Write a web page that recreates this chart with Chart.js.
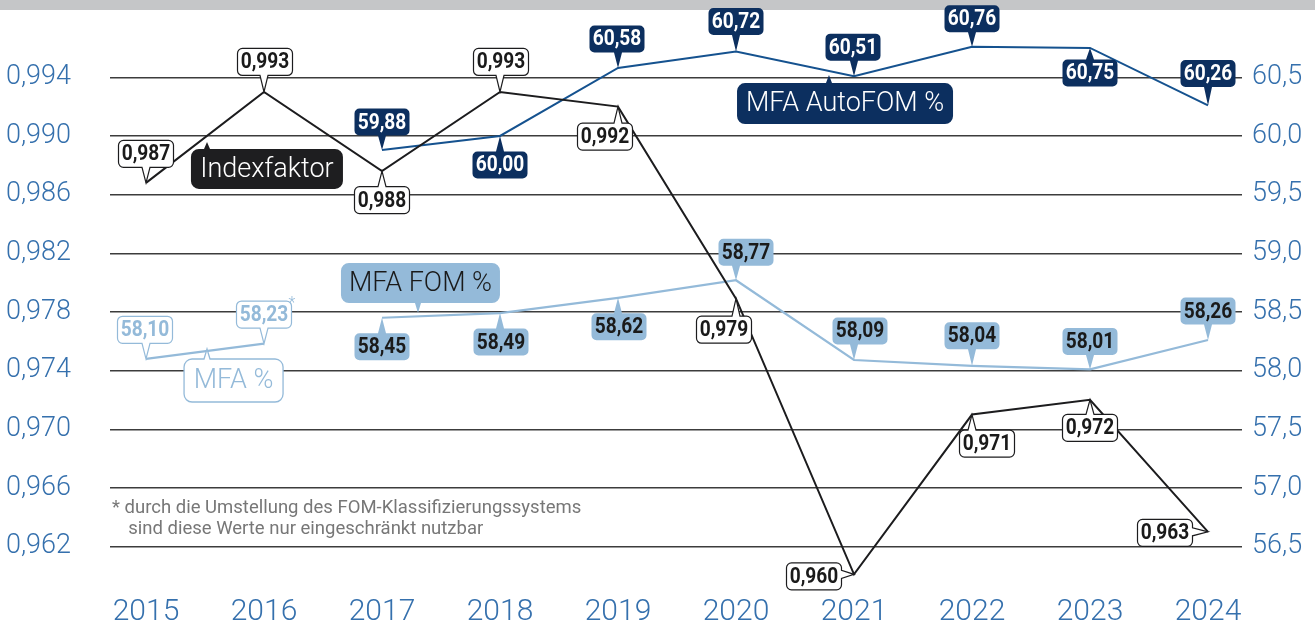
<!DOCTYPE html>
<html>
<head>
<meta charset="utf-8">
<script src="https://cdn.jsdelivr.net/npm/chart.js@4/dist/chart.umd.min.js"></script>
<style>
html,body{margin:0;padding:0;background:#fff;}
#wrap{position:relative;width:1315px;height:628px;}
</style>
</head>
<body>
<div id="wrap"><canvas id="c" width="1315" height="628"></canvas></div>
<script>
// ---- data ----
const years = [2015, 2016, 2017, 2018, 2019, 2020, 2021, 2022, 2023, 2024];
const indexfaktor = [0.9868, 0.9930, 0.9876, 0.9930, 0.9920, 0.9789, 0.9601, 0.9710, 0.9720, 0.9630];
const mfaAutoFom = [null, null, 59.88, 60.00, 60.58, 60.72, 60.51, 60.76, 60.75, 60.26];
const mfaFom = [null, null, 58.45, 58.49, 58.62, 58.77, 58.09, 58.04, 58.01, 58.26];
const mfa = [58.10, 58.23, null, null, null, null, null, null, null, null];
const mfaMarks = ['', '*', '', '', '', '', '', '', '', ''];
const leftTicks = [0.962, 0.966, 0.970, 0.974, 0.978, 0.982, 0.986, 0.990, 0.994];
const rightTicks = [56.5, 57.0, 57.5, 58.0, 58.5, 59.0, 59.5, 60.0, 60.5];
const seriesNames = ['Indexfaktor', 'MFA AutoFOM %', 'MFA FOM %', 'MFA %'];
const footnote = ['* durch die Umstellung des FOM-Klassifizierungssystems', '  sind diese Werte nur eingeschränkt nutzbar'];

// ---- styling / placement (relative to points) ----
const C_BLACK = '#1c1c1e', C_NAVY = '#0c2f5f', C_BLUE = '#15528f', C_LIGHT = '#94bad9', C_AXIS = '#3570ad';
const FRAME = {yTop: 77.3, yBottom: 546.5, xFirst: 146, xLast: 1208};
const place = [
  [[0,-29,'b'],[1,-30,'b'],[0,29,'t'],[1,-30,'b'],[-13,30,'t'],[-12,31,'t'],[-40,2,'r'],[15,29,'t'],[0,28,'t'],[-43,1,'r']],
  [null,null,[0,-28,'b'],[0,29,'t'],[-1,-29,'b'],[0,-30,'b'],[-1,-29,'b'],[0,-28,'b'],[0,25,'t'],[0,-32,'b']],
  [null,null,[0,29,'t'],[1,29,'t'],[1,29,'t'],[10,-28,'b'],[6,-29,'b'],[0,-30,'b'],[0,-28,'b'],[0,-29,'b']],
  [[-1,-29,'b'],[0,-29,'b']]
];
const boxStyle = [
  {fill:'#fff', stroke:C_BLACK, text:'#1a1a1a', dec:3},
  {fill:C_NAVY, stroke:null, text:'#fff', dec:2},
  {fill:C_LIGHT, stroke:null, text:'#1a1a1a', dec:2},
  {fill:'#fff', stroke:C_LIGHT, text:C_LIGHT, dec:2}
];
const tags = [
  {cx:2016.025, cy:0.98775, w:152, h:40, tx:2015.517, ty:0.98959, side:'t', fill:'#1e1e20', stroke:null, text:'#fff'},
  {cx:2020.924, cy:0.99221, w:216, h:41, tx:2020.788, ty:0.99416, side:'t', fill:C_NAVY, stroke:null, text:'#fff'},
  {cx:2017.326, cy:0.97997, w:159, h:40, tx:2017.305, ty:0.97793, side:'b', fill:C_LIGHT, stroke:null, text:'#1a1a1a'},
  {cx:2015.742, cy:0.97332, w:99, h:43, tx:2015.517, ty:0.97547, side:'t', fill:'#fff', stroke:C_LIGHT, text:C_LIGHT}
];

const fmt = (v, d) => v.toFixed(d).replace('.', ',');
const clamp = (v, a, b) => Math.max(a, Math.min(b, v));

function bubble(ctx, cx, cy, w, h, r, side, tx, ty, bw) {
  const x0 = cx - w/2, y0 = cy - h/2, x1 = cx + w/2, y1 = cy + h/2;
  ctx.beginPath();
  ctx.moveTo(x0 + r, y0);
  if (side === 't') { const b = clamp(tx, x0 + r + bw/2, x1 - r - bw/2); ctx.lineTo(b - bw/2, y0); ctx.lineTo(tx, ty); ctx.lineTo(b + bw/2, y0); }
  ctx.lineTo(x1 - r, y0); ctx.arcTo(x1, y0, x1, y0 + r, r);
  if (side === 'r') { const b = clamp(ty, y0 + r + bw/2, y1 - r - bw/2); ctx.lineTo(x1, b - bw/2); ctx.lineTo(tx, ty); ctx.lineTo(x1, b + bw/2); }
  ctx.lineTo(x1, y1 - r); ctx.arcTo(x1, y1, x1 - r, y1, r);
  if (side === 'b') { const b = clamp(tx, x0 + r + bw/2, x1 - r - bw/2); ctx.lineTo(b + bw/2, y1); ctx.lineTo(tx, ty); ctx.lineTo(b - bw/2, y1); }
  ctx.lineTo(x0 + r, y1); ctx.arcTo(x0, y1, x0, y1 - r, r);
  if (side === 'l') { const b = clamp(ty, y0 + r + bw/2, y1 - r - bw/2); ctx.lineTo(x0, b + bw/2); ctx.lineTo(tx, ty); ctx.lineTo(x0, b - bw/2); }
  ctx.lineTo(x0, y0 + r); ctx.arcTo(x0, y0, x0 + r, y0, r);
  ctx.closePath();
}

const decor = {
  id: 'decor',
  beforeDraw(chart) {
    const ctx = chart.ctx;
    ctx.save();
    ctx.fillStyle = '#c5c6c8';
    ctx.fillRect(0, 0, chart.width, 10);
    ctx.restore();
  },
  afterDatasetsDraw(chart) {
    const ctx = chart.ctx;
    const xs = chart.scales.x, yl = chart.scales.y;
    ctx.save();
    tags.forEach((t, i) => {
      const cx = xs.getPixelForValue(t.cx), cy = yl.getPixelForValue(t.cy);
      const tx = xs.getPixelForValue(t.tx), ty = yl.getPixelForValue(t.ty);
      bubble(ctx, cx, cy, t.w, t.h, 8, t.side, tx, ty, 6);
      ctx.fillStyle = t.fill; ctx.fill();
      if (t.stroke) { ctx.strokeStyle = t.stroke; ctx.lineWidth = 1.3; ctx.stroke(); }
      ctx.fillStyle = t.text;
      ctx.font = '300 27px Roboto';
      ctx.textAlign = 'center'; ctx.textBaseline = 'middle';
      ctx.fillText(seriesNames[i], cx, cy + 1);
    });
    const order = [3, 2, 1, 0];
    order.forEach(di => {
      const meta = chart.getDatasetMeta(di);
      const st = boxStyle[di];
      const vals = chart.data.datasets[di].data;
      meta.data.forEach((pt, j) => {
        const v = vals[j];
        if (!v || v.y === null || v.y === undefined) return;
        const p = place[di][j];
        if (!p) return;
        const px = pt.x, py = pt.y;
        const cx = px + p[0], cy = py + p[1];
        const w = 55, h = 27;
        bubble(ctx, cx, cy, w, h, 5, p[2], px, py, 8);
        ctx.fillStyle = st.fill; ctx.fill();
        if (st.stroke) { ctx.strokeStyle = st.stroke; ctx.lineWidth = 1.2; ctx.stroke(); }
        ctx.save();
        ctx.translate(cx, cy + 1);
        ctx.scale(0.87, 1);
        ctx.fillStyle = st.text;
        ctx.font = 'bold 22px Roboto';
        ctx.textAlign = 'center'; ctx.textBaseline = 'middle';
        ctx.fillText(fmt(v.y, st.dec), 0, 0);
        ctx.restore();
        if (di === 3 && mfaMarks[j]) {
          ctx.fillStyle = C_LIGHT;
          ctx.font = '300 16px Roboto';
          ctx.textAlign = 'left'; ctx.textBaseline = 'middle';
          ctx.fillText(mfaMarks[j], cx + w/2 - 3, cy - h/2 + 3);
        }
      });
    });
    const ca = chart.chartArea;
    ctx.fillStyle = '#777';
    ctx.font = '400 18.5px Roboto';
    ctx.textAlign = 'left'; ctx.textBaseline = 'alphabetic';
    ctx.fillText(footnote[0], ca.left + 2, yl.getPixelForValue(0.966) + 25);
    ctx.fillText(footnote[1], ca.left + 9, yl.getPixelForValue(0.966) + 46);
    ctx.restore();
  }
};

function frameScales(chart) {
  const ca = chart.chartArea, o = chart.options.scales;
  const ky = (FRAME.yBottom - FRAME.yTop) / (leftTicks[leftTicks.length-1] - leftTicks[0]);
  o.y.min = leftTicks[0] - (ca.bottom - FRAME.yBottom) / ky;
  o.y.max = leftTicks[leftTicks.length-1] + (FRAME.yTop - ca.top) / ky;
  const k2 = (FRAME.yBottom - FRAME.yTop) / (rightTicks[rightTicks.length-1] - rightTicks[0]);
  o.y2.min = rightTicks[0] - (ca.bottom - FRAME.yBottom) / k2;
  o.y2.max = rightTicks[rightTicks.length-1] + (FRAME.yTop - ca.top) / k2;
  const kx = (FRAME.xLast - FRAME.xFirst) / (years[years.length-1] - years[0]);
  o.x.min = years[0] - (FRAME.xFirst - ca.left) / kx;
  o.x.max = years[years.length-1] + (ca.right - FRAME.xLast) / kx;
  chart.update();
}

const noPad = s => { s.paddingTop = 0; s.paddingBottom = 0; s.paddingLeft = 0; s.paddingRight = 0; };

function build() {
  const pts = arr => years.map((y, i) => ({x: y, y: arr[i]}));
  const gridC = '#3c3c3c';
  const chart = new Chart(document.getElementById('c'), {
    type: 'line',
    data: {
      datasets: [
        {label: seriesNames[0], data: pts(indexfaktor), yAxisID: 'y', borderColor: C_BLACK, borderWidth: 2, pointRadius: 0, tension: 0, clip: false},
        {label: seriesNames[1], data: pts(mfaAutoFom), yAxisID: 'y2', borderColor: C_BLUE, borderWidth: 2, pointRadius: 0, tension: 0, clip: false},
        {label: seriesNames[2], data: pts(mfaFom), yAxisID: 'y2', borderColor: C_LIGHT, borderWidth: 2.2, pointRadius: 0, tension: 0, clip: false},
        {label: seriesNames[3], data: pts(mfa), yAxisID: 'y2', borderColor: C_LIGHT, borderWidth: 2.2, pointRadius: 0, tension: 0, clip: false}
      ]
    },
    options: {
      responsive: false,
      animation: false,
      layout: {padding: {top: 10, left: 0, right: 0, bottom: 0}},
      plugins: {legend: {display: false}, tooltip: {enabled: false}},
      scales: {
        x: {
          type: 'linear', min: 2014.695, max: 2024.288,
          afterBuildTicks: s => { s.ticks = years.map(v => ({value: v})); },
          afterFit: s => { s.height = 38; noPad(s); },
          grid: {display: false}, border: {display: false},
          ticks: {color: C_AXIS, font: {family: 'Roboto', weight: '300', size: 30}, padding: -4, maxRotation: 0, autoSkip: false,
                  callback: v => String(v)}
        },
        y: {
          position: 'left', min: 0.959033, max: 0.99859,
          afterBuildTicks: s => { s.ticks = leftTicks.map(v => ({value: v})); },
          afterFit: s => { s.width = 110; noPad(s); },
          grid: {color: gridC, lineWidth: 1.4, drawTicks: false}, border: {display: false},
          ticks: {color: C_AXIS, font: {family: 'Roboto', weight: '300', size: 27}, padding: 39,
                  callback: v => fmt(v, 3)}
        },
        y2: {
          position: 'right', min: 56.1292, max: 61.0737,
          afterBuildTicks: s => { s.ticks = rightTicks.map(v => ({value: v})); },
          afterFit: s => { s.width = 73; noPad(s); },
          grid: {display: false, drawTicks: false}, border: {display: false},
          ticks: {color: C_AXIS, font: {family: 'Roboto', weight: '300', size: 27}, padding: 10,
                  callback: v => fmt(v, 1)}
        }
      }
    },
    plugins: [decor]
  });
  frameScales(chart);
  frameScales(chart);
}
const loads = ['300 27px Roboto', 'bold 22px Roboto', '400 17px Roboto'].map(f => document.fonts.load(f).catch(() => null));
Promise.all(loads).then(build, build);
</script>
</body>
</html>
